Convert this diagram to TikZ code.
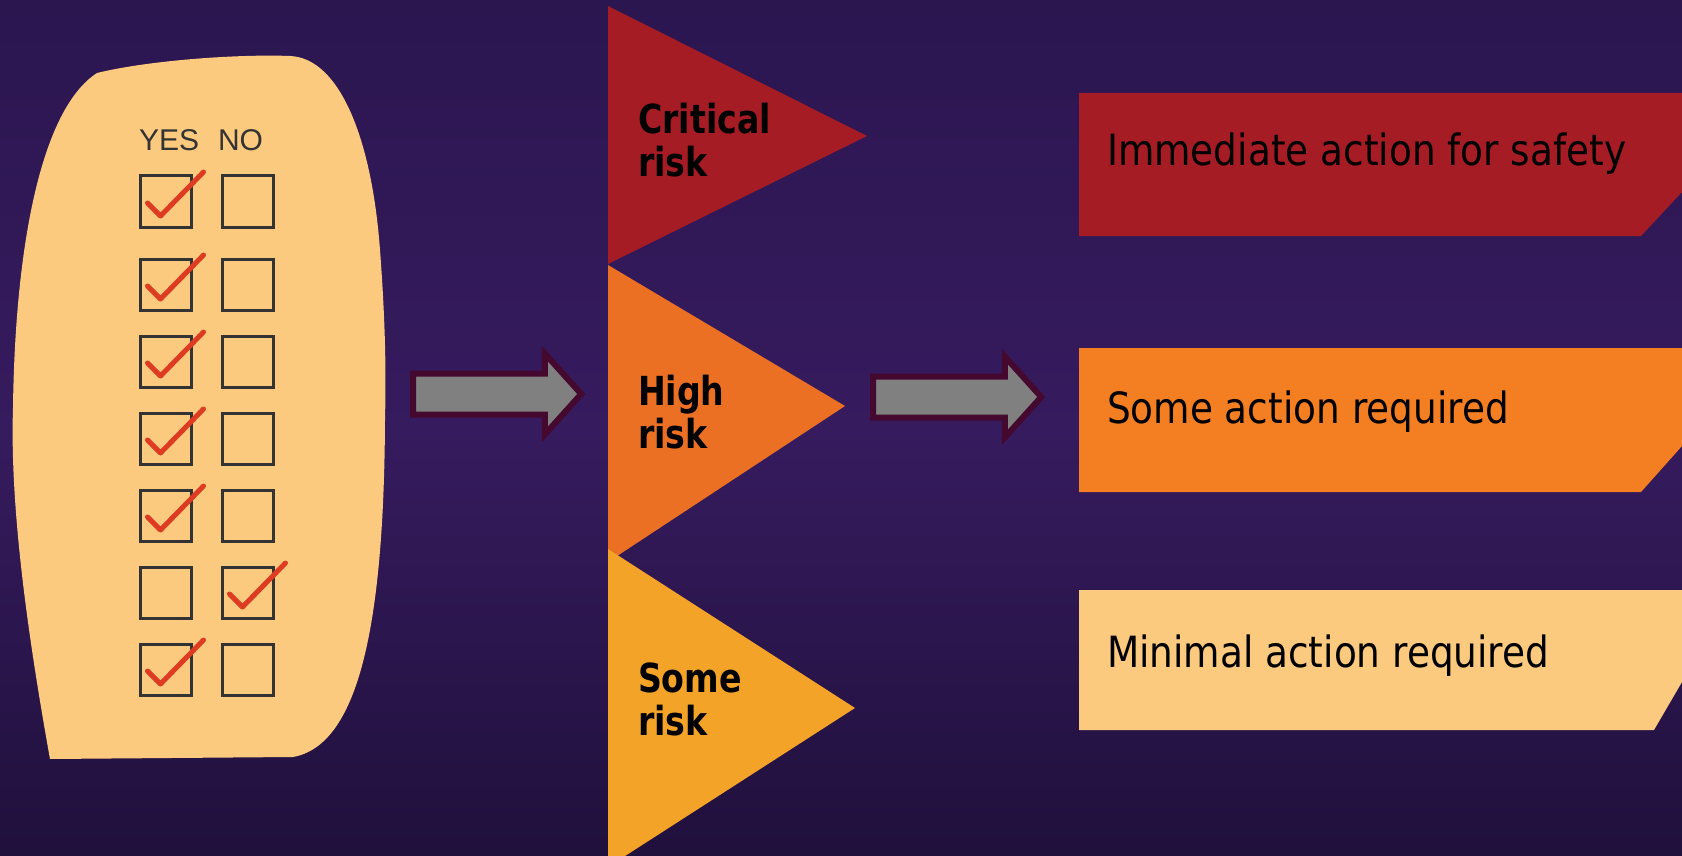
\documentclass[tikz,border=0pt]{standalone}
\usepackage{fontspec}
\setmainfont{DejaVu Sans}
\newfontfamily\riskfont[FakeStretch=0.83]{DejaVu Sans}
\newfontfamily\actionfont[FakeStretch=0.87]{DejaVu Sans}
\newfontfamily\formfont{Liberation Sans}
\usetikzlibrary{shapes.arrows}

\definecolor{bgtop}{HTML}{2B1650}
\definecolor{bgmid}{HTML}{361B5E}
\definecolor{bgbot}{HTML}{20103C}
\definecolor{critred}{HTML}{A61C24}
\definecolor{highorange}{HTML}{EC7024}
\definecolor{someamber}{HTML}{F4A329}
\definecolor{actionorange}{HTML}{F47F22}
\definecolor{paleorange}{HTML}{FBCA7E}
\definecolor{boxgray}{HTML}{333333}
\definecolor{tickred}{HTML}{DD3B22}
\definecolor{arrowgray}{HTML}{808080}
\definecolor{arrowrim}{HTML}{45082F}

\begin{document}
\begin{tikzpicture}[x=1pt, y=-1pt,
  every node/.style = {inner sep=0pt, outer sep=0pt},
  checkbox/.style = {draw=boxgray, line width=3pt, anchor=north west,
    minimum width=51pt, minimum height=51pt},
  tick/.style = {draw=tickred, line width=5pt, line cap=round, line join=round},
  risklabel/.style = {anchor=base west, align=left,
    font=\riskfont\bfseries\fontsize{40}{43}\selectfont},
  actionlabel/.style = {anchor=base west,
    font=\actionfont\fontsize{43}{50}\selectfont},
  bigarrow/.style = {single arrow, draw=arrowrim, fill=arrowgray,
    line width=6pt, inner xsep=0pt, inner ysep=17.5pt,
    single arrow head extend=20pt, single arrow tip angle=96,
    minimum height=168pt}]
  \useasboundingbox (0,0) rectangle (1682,856);
  \shade[top color=bgtop, bottom color=bgmid] (0,0) rectangle (1682,431);
  \shade[top color=bgmid, bottom color=bgbot] (0,430) rectangle (1682,856);

  % the questionnaire sheet
  \fill[paleorange] (50,759) .. controls (25,620) and (10,500) .. (13,408)
    .. controls (15,250) and (40,110) .. (97,73)
    .. controls (150,60) and (240,54) .. (290,56)
    .. controls (340,58) and (372,140) .. (380,250)
    .. controls (386,330) and (386,380) .. (385,420)
    .. controls (384,620) and (360,745) .. (293,757) -- cycle;
  \node[anchor=base west, text=boxgray,
    font=\formfont\fontsize{30}{36}\selectfont] (yes) at (139,151) {YES};
  \node[anchor=base west, text=boxgray,
    font=\formfont\fontsize{30}{36}\selectfont] (no) at (218,151) {NO};
  \foreach \y/\col [count=\i] in {176/yes,259/yes,336/yes,413/yes,490/yes,567/no,644/yes} {
    \node[checkbox] (yes\i) at (140.5,\y) {};
    \node[checkbox] (no\i) at (222.5,\y) {};
    \draw[tick] ([shift={(7,27)}]\col\i.north west)
      -- ([shift={(20,40)}]\col\i.north west)
      -- ([shift={(63,-4)}]\col\i.north west);
  }

  % risk levels
  \fill[critred] (608,6) -- (867,136) -- (608,264) -- cycle;
  \fill[highorange] (608,265) -- (845,406) -- (608,562) -- cycle;
  \fill[someamber] (608,549) -- (855,708) -- (608,867) -- cycle;
  \node[risklabel] (critical) at (638,176) {Critical\\risk};
  \node[risklabel] (high) at (638,448) {High\\risk};
  \node[risklabel] (some) at (638,735) {Some\\risk};

  % actions
  \fill[critred] (1079,93) -- (1682,93) -- (1682,192) -- (1641,236) -- (1079,236) -- cycle;
  \fill[actionorange] (1079,348) -- (1682,348) -- (1682,446) -- (1641,492) -- (1079,492) -- cycle;
  \fill[paleorange] (1079,590) -- (1682,590) -- (1682,682) -- (1654,730) -- (1079,730) -- cycle;
  \node[actionlabel] (immediate) at (1107,166) {Immediate action for safety};
  \node[actionlabel] (someaction) at (1107,423) {Some action required};
  \node[actionlabel] (minimal) at (1107,667) {Minimal action required};

  \node[bigarrow] (arrowIn) at (488,394) {};
  \node[bigarrow] (arrowOut) at (948,397) {};
\end{tikzpicture}
\end{document}
